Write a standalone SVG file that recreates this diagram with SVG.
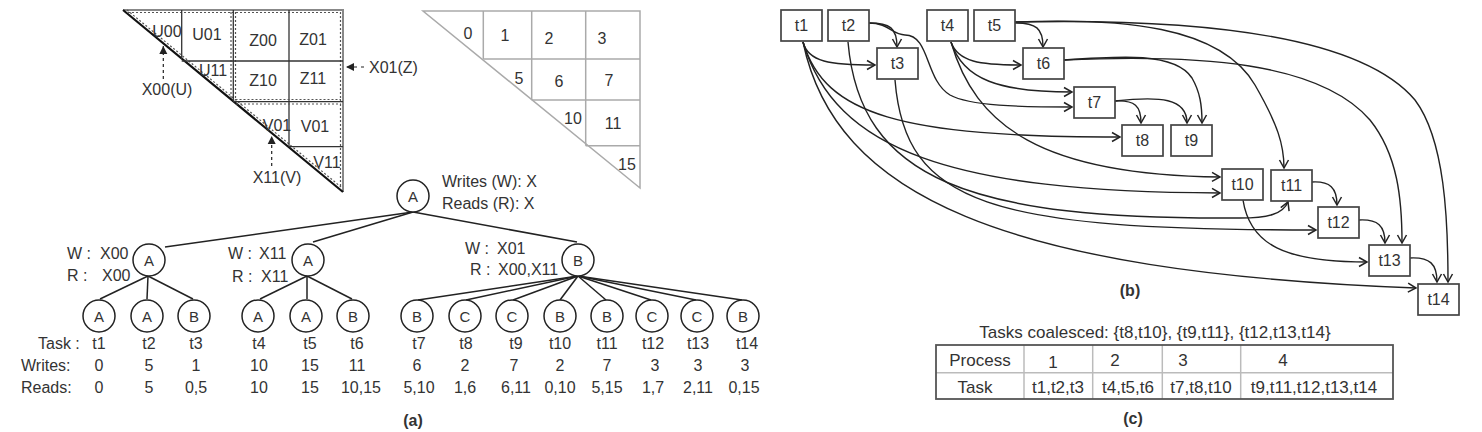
<svg xmlns="http://www.w3.org/2000/svg" width="1482" height="432" viewBox="0 0 1482 432">
<style>
text{font-family:"Liberation Sans",Arial,sans-serif;font-size:16px;fill:#333;}
.c{text-anchor:middle;dominant-baseline:central;}
.s{font-size:15px;}
.t17{font-size:17px;}
.b{font-weight:bold;}
.g{stroke:#333;stroke-width:1.3;fill:none;}
.dot{stroke:#555;stroke-width:1.2;stroke-dasharray:2,2;fill:none;}
.g2{stroke:#aaa;stroke-width:1.5;fill:none;}
.tl{stroke:#222;stroke-width:1.5;fill:none;}
.nd{fill:#fff;stroke:#222;stroke-width:1.5;}
.bx{fill:#fff;stroke:#444;stroke-width:1.7;}
.e{stroke:#222;stroke-width:1.4;fill:none;marker-end:url(#arr);}
</style>
<defs>
<marker id="arr" markerUnits="userSpaceOnUse" markerWidth="12" markerHeight="12" refX="10" refY="6" orient="auto">
<path d="M2,1.5 L10,6 L2,10.5" fill="none" stroke="#222" stroke-width="1.5"/>
</marker>
<marker id="tri" markerUnits="userSpaceOnUse" markerWidth="10" markerHeight="10" refX="8" refY="5" orient="auto">
<path d="M0,1 L8,5 L0,9 Z" fill="#222"/>
</marker>
</defs>

<!-- (a) blocked triangle -->
<g id="blocks">
<path d="M123,10 L343,10 L343,192" fill="none" stroke="#888" stroke-width="2"/>
<path d="M128,12.5 L340.5,12.5 L340.5,188" class="dot"/>
<line x1="123" y1="10" x2="343" y2="192" stroke="#111" stroke-width="2.2"/>
<line x1="127" y1="10" x2="341" y2="187" class="dot"/>
<line x1="181.7" y1="10" x2="181.7" y2="59" class="g"/>
<line x1="233.3" y1="10" x2="233.3" y2="101" class="g"/>
<line x1="231" y1="12" x2="231" y2="99" class="dot"/>
<line x1="235.5" y1="12" x2="235.5" y2="99" class="dot"/>
<line x1="289" y1="10" x2="289" y2="147" class="g"/>
<line x1="181.7" y1="61" x2="343" y2="61" class="g"/>
<line x1="233" y1="101.7" x2="343" y2="101.7" class="g"/>
<line x1="235.5" y1="99.5" x2="341" y2="99.5" class="dot"/>
<line x1="236" y1="104" x2="341" y2="104" class="dot"/>
<line x1="289" y1="146.7" x2="343" y2="146.7" class="g"/>
<text class="c" x="167" y="31">U00</text>
<text class="c" x="207" y="34">U01</text>
<text class="c" x="213" y="70">U11</text>
<text class="c" x="263" y="40">Z00</text>
<text class="c" x="313" y="39">Z01</text>
<text class="c" x="263" y="80">Z10</text>
<text class="c" x="313" y="78">Z11</text>
<text class="c" x="277" y="125">V01</text>
<text class="c" x="315" y="126">V01</text>
<text class="c" x="327" y="162">V11</text>
<line x1="163.3" y1="79" x2="163.3" y2="46" stroke="#222" stroke-width="1.2" stroke-dasharray="3,3" marker-end="url(#tri)"/>
<text class="c" x="167" y="89">X00(U)</text>
<line x1="271.7" y1="166" x2="271.7" y2="136" stroke="#222" stroke-width="1.2" stroke-dasharray="3,3" marker-end="url(#tri)"/>
<text class="c" x="277" y="177">X11(V)</text>
<line x1="364" y1="67" x2="346" y2="67" stroke="#222" stroke-width="1.2" stroke-dasharray="3,4" marker-end="url(#tri)"/>
<text x="369" y="67" dominant-baseline="central">X01(Z)</text>
</g>

<!-- (a) numbered triangle -->
<g id="numbers">
<path d="M423,11 L640,11 L640,188 Z" class="g2"/>
<line x1="483.3" y1="11" x2="483.3" y2="59" class="g2"/>
<line x1="531.7" y1="11" x2="531.7" y2="100" class="g2"/>
<line x1="585.7" y1="11" x2="585.7" y2="145.7" class="g2"/>
<line x1="483.3" y1="59" x2="640" y2="59" class="g2"/>
<line x1="531.7" y1="100" x2="640" y2="100" class="g2"/>
<line x1="585.7" y1="145.7" x2="640" y2="145.7" class="g2"/>
<text class="c" x="468" y="33">0</text>
<text class="c" x="505" y="35">1</text>
<text class="c" x="549" y="38">2</text>
<text class="c" x="602" y="38">3</text>
<text class="c" x="519" y="78">5</text>
<text class="c" x="559" y="81">6</text>
<text class="c" x="609" y="80">7</text>
<text class="c" x="573" y="118">10</text>
<text class="c" x="613" y="123">11</text>
<text class="c" x="627" y="164">15</text>
</g>

<!-- (a) tree edges -->
<g id="tree-edges">
<line x1="413" y1="212" x2="165" y2="247" class="tl"/>
<line x1="413" y1="212" x2="313" y2="242" class="tl"/>
<line x1="413" y1="212" x2="577" y2="242" class="tl"/>
<line x1="148" y1="276" x2="100" y2="299" class="tl"/>
<line x1="148" y1="276" x2="147" y2="299" class="tl"/>
<line x1="148" y1="276" x2="193" y2="299" class="tl"/>
<line x1="307" y1="276" x2="260" y2="299" class="tl"/>
<line x1="307" y1="276" x2="307" y2="299" class="tl"/>
<line x1="307" y1="276" x2="352" y2="299" class="tl"/>
<line x1="578" y1="276" x2="418" y2="300" class="tl"/>
<line x1="578" y1="276" x2="466" y2="300" class="tl"/>
<line x1="578" y1="276" x2="513" y2="300" class="tl"/>
<line x1="578" y1="276" x2="560" y2="300" class="tl"/>
<line x1="578" y1="276" x2="606" y2="300" class="tl"/>
<line x1="578" y1="276" x2="651" y2="300" class="tl"/>
<line x1="578" y1="276" x2="696" y2="300" class="tl"/>
<line x1="578" y1="276" x2="742" y2="300" class="tl"/>
</g>

<g id="root"><circle class="nd" cx="413" cy="196" r="16"/><text class="c s" x="413" y="196">A</text>
<text x="442" y="181" dominant-baseline="central">Writes (W): X</text>
<text x="442" y="203" dominant-baseline="central">Reads (R): X</text></g>
<g id="n-left"><circle class="nd" cx="149" cy="260" r="16"/><text class="c s" x="149" y="260">A</text>
<text dominant-baseline="central" y="253"><tspan x="67">W :</tspan><tspan x="100">X00</tspan></text>
<text dominant-baseline="central" y="275"><tspan x="67">R :</tspan><tspan x="102">X00</tspan></text></g>
<g id="n-mid"><circle class="nd" cx="308" cy="260" r="16"/><text class="c s" x="308" y="260">A</text>
<text dominant-baseline="central" y="253"><tspan x="228">W :</tspan><tspan x="259">X11</tspan></text>
<text dominant-baseline="central" y="276"><tspan x="232">R :</tspan><tspan x="261">X11</tspan></text></g>
<g id="n-right"><circle class="nd" cx="578" cy="260" r="16"/><text class="c s" x="578" y="260">B</text>
<text dominant-baseline="central" y="248"><tspan x="465">W :</tspan><tspan x="497">X01</tspan></text>
<text dominant-baseline="central" y="269"><tspan x="470">R :</tspan><tspan x="498">X00,X11</tspan></text></g>

<g id="leaves">
<circle class="nd" cx="99" cy="316" r="16"/><text class="c s" x="99" y="316">A</text>
<circle class="nd" cx="147" cy="316" r="16"/><text class="c s" x="147" y="316">A</text>
<circle class="nd" cx="194" cy="316" r="16"/><text class="c s" x="194" y="316">B</text>
<circle class="nd" cx="258" cy="316" r="16"/><text class="c s" x="258" y="316">A</text>
<circle class="nd" cx="306" cy="316" r="16"/><text class="c s" x="306" y="316">A</text>
<circle class="nd" cx="353" cy="316" r="16"/><text class="c s" x="353" y="316">B</text>
<circle class="nd" cx="417" cy="316" r="16"/><text class="c s" x="417" y="316">B</text>
<circle class="nd" cx="465" cy="316" r="16"/><text class="c s" x="465" y="316">C</text>
<circle class="nd" cx="512" cy="316" r="16"/><text class="c s" x="512" y="316">C</text>
<circle class="nd" cx="560" cy="316" r="16"/><text class="c s" x="560" y="316">B</text>
<circle class="nd" cx="607" cy="316" r="16"/><text class="c s" x="607" y="316">B</text>
<circle class="nd" cx="652" cy="316" r="16"/><text class="c s" x="652" y="316">C</text>
<circle class="nd" cx="697" cy="316" r="16"/><text class="c s" x="697" y="316">C</text>
<circle class="nd" cx="743" cy="316" r="16"/><text class="c s" x="743" y="316">B</text>
</g>

<g id="task-table">
<text x="38" y="343" dominant-baseline="central">Task :</text>
<text x="21" y="365" dominant-baseline="central">Writes:</text>
<text x="21" y="387" dominant-baseline="central">Reads:</text>
<text class="c" x="99" y="343">t1</text><text class="c" x="99" y="365">0</text><text class="c" x="99" y="387">0</text>
<text class="c" x="149" y="343">t2</text><text class="c" x="149" y="365">5</text><text class="c" x="149" y="387">5</text>
<text class="c" x="196" y="343">t3</text><text class="c" x="196" y="365">1</text><text class="c" x="196" y="387">0,5</text>
<text class="c" x="259" y="343">t4</text><text class="c" x="259" y="365">10</text><text class="c" x="259" y="387">10</text>
<text class="c" x="310" y="343">t5</text><text class="c" x="310" y="365">15</text><text class="c" x="310" y="387">15</text>
<text class="c" x="357" y="343">t6</text><text class="c" x="357" y="365">11</text><text class="c" x="361" y="387">10,15</text>
<text class="c" x="419" y="343">t7</text><text class="c" x="417" y="365">6</text><text class="c" x="419" y="387">5,10</text>
<text class="c" x="466" y="343">t8</text><text class="c" x="465" y="365">2</text><text class="c" x="465" y="387">1,6</text>
<text class="c" x="516" y="343">t9</text><text class="c" x="514" y="365">7</text><text class="c" x="516" y="387">6,11</text>
<text class="c" x="560" y="343">t10</text><text class="c" x="560" y="365">2</text><text class="c" x="560" y="387">0,10</text>
<text class="c" x="607" y="343">t11</text><text class="c" x="607" y="365">7</text><text class="c" x="607" y="387">5,15</text>
<text class="c" x="653" y="343">t12</text><text class="c" x="655" y="365">3</text><text class="c" x="653" y="387">1,7</text>
<text class="c" x="698" y="343">t13</text><text class="c" x="698" y="365">3</text><text class="c" x="698" y="387">2,11</text>
<text class="c" x="747" y="343">t14</text><text class="c" x="745" y="365">3</text><text class="c" x="744" y="387">0,15</text>
<text class="c b" x="413" y="420">(a)</text>
</g>

<!-- (b) connectors -->
<g id="connectors">
<path class="e" d="M803,42 C808,62 830,65 875,65"/>
<path class="e" d="M869,23 C890,23 897,28 897,47"/>
<path class="e" d="M869,23 C889,23 892,35 905,35 C930,35 925,80 950,95 C970,106 1020,107 1072,107"/>
<path class="e" d="M951,42 C958,62 980,65 1021,65"/>
<path class="e" d="M951,42 C963,80 1000,92 1072,92"/>
<path class="e" d="M951,42 C975,125 1040,175 1220,177"/>
<path class="e" d="M1015,23 C1036,23 1043,28 1043,47"/>
<path class="e" d="M803,42 C825,115 900,137 1120,137"/>
<path class="e" d="M803,42 C835,150 950,192 1220,193"/>
<path class="e" d="M803,42 C835,195 1000,272 1416,288"/>
<path class="e" d="M848,42 C860,180 970,220 1240,218 C1268,218 1283,214 1288,202"/>
<path class="e" d="M895,80 C905,205 990,230 1316,230"/>
<path class="e" d="M1064,60 C1120,56 1175,52 1192,78 C1200,92 1202,105 1202,123"/>
<path class="e" d="M1064,60 C1200,54 1320,62 1370,120 C1398,155 1402,200 1402,243"/>
<path class="e" d="M1015,22 C1120,18 1220,25 1255,85 C1278,125 1284,145 1284,168"/>
<path class="e" d="M1015,22 C1200,18 1360,35 1415,100 C1445,140 1448,220 1448,282"/>
<path class="e" d="M1115,101 C1135,100 1141,106 1141,123"/>
<path class="e" d="M1115,101 C1160,96 1187,98 1187,123"/>
<path class="e" d="M1312,182 C1330,181 1337,188 1337,205"/>
<path class="e" d="M1359,220 C1378,219 1385,226 1385,243"/>
<path class="e" d="M1410,258 C1430,257 1437,264 1437,282"/>
<path class="e" d="M1243,200 C1250,245 1285,262 1367,262"/>
</g>

<g id="t1"><rect class="bx" x="781" y="10" width="41" height="31"/><text class="c" x="801.5" y="25.5">t1</text></g>
<g id="t2"><rect class="bx" x="828" y="10" width="41" height="31"/><text class="c" x="848.5" y="25.5">t2</text></g>
<g id="t3"><rect class="bx" x="877" y="48" width="41" height="31"/><text class="c" x="897.5" y="63.5">t3</text></g>
<g id="t4"><rect class="bx" x="927" y="10" width="41" height="31"/><text class="c" x="947.5" y="25.5">t4</text></g>
<g id="t5"><rect class="bx" x="974" y="10" width="41" height="31"/><text class="c" x="994.5" y="25.5">t5</text></g>
<g id="t6"><rect class="bx" x="1023" y="48" width="41" height="31"/><text class="c" x="1043.5" y="63.5">t6</text></g>
<g id="t7"><rect class="bx" x="1074" y="87" width="41" height="31"/><text class="c" x="1094.5" y="102.5">t7</text></g>
<g id="t8"><rect class="bx" x="1122" y="125" width="41" height="31"/><text class="c" x="1142.5" y="140.5">t8</text></g>
<g id="t9"><rect class="bx" x="1171" y="125" width="41" height="31"/><text class="c" x="1191.5" y="140.5">t9</text></g>
<g id="t10"><rect class="bx" x="1222" y="169" width="41" height="31"/><text class="c" x="1242.5" y="184.5">t10</text></g>
<g id="t11"><rect class="bx" x="1271" y="170" width="41" height="31"/><text class="c" x="1291.5" y="185.5">t11</text></g>
<g id="t12"><rect class="bx" x="1318" y="207" width="41" height="31"/><text class="c" x="1338.5" y="222.5">t12</text></g>
<g id="t13"><rect class="bx" x="1369" y="245" width="41" height="31"/><text class="c" x="1389.5" y="260.5">t13</text></g>
<g id="t14"><rect class="bx" x="1418" y="284" width="41" height="31"/><text class="c" x="1438.5" y="299.5">t14</text></g>
<text class="c b" x="1130" y="290">(b)</text>

<!-- (c) table -->
<g id="process-table">
<text class="c t17" x="1155" y="332">Tasks coalesced: {t8,t10}, {t9,t11}, {t12,t13,t14}</text>
<line x1="936" y1="372.7" x2="1393" y2="372.7" stroke="#bbb" stroke-width="1.5"/>
<line x1="1024" y1="345" x2="1024" y2="399" stroke="#bbb" stroke-width="1.5"/>
<line x1="1092.7" y1="345" x2="1092.7" y2="399" stroke="#bbb" stroke-width="1.5"/>
<line x1="1162.3" y1="345" x2="1162.3" y2="399" stroke="#bbb" stroke-width="1.5"/>
<line x1="1240.7" y1="345" x2="1240.7" y2="399" stroke="#bbb" stroke-width="1.5"/>
<rect x="936" y="345" width="457" height="54" fill="none" stroke="#555" stroke-width="1.8"/>
<text class="c t17" x="980" y="360">Process</text>
<text class="c t17" x="1053" y="362">1</text>
<text class="c t17" x="1115" y="360">2</text>
<text class="c t17" x="1183" y="360">3</text>
<text class="c t17" x="1283" y="360">4</text>
<text class="c t17" x="975" y="387">Task</text>
<text class="c t17" x="1058" y="387">t1,t2,t3</text>
<text class="c t17" x="1128" y="387">t4,t5,t6</text>
<text class="c t17" x="1201" y="387">t7,t8,t10</text>
<text class="c t17" x="1314" y="387">t9,t11,t12,t13,t14</text>
<text class="c b" x="1133" y="418">(c)</text>
</g>
</svg>
